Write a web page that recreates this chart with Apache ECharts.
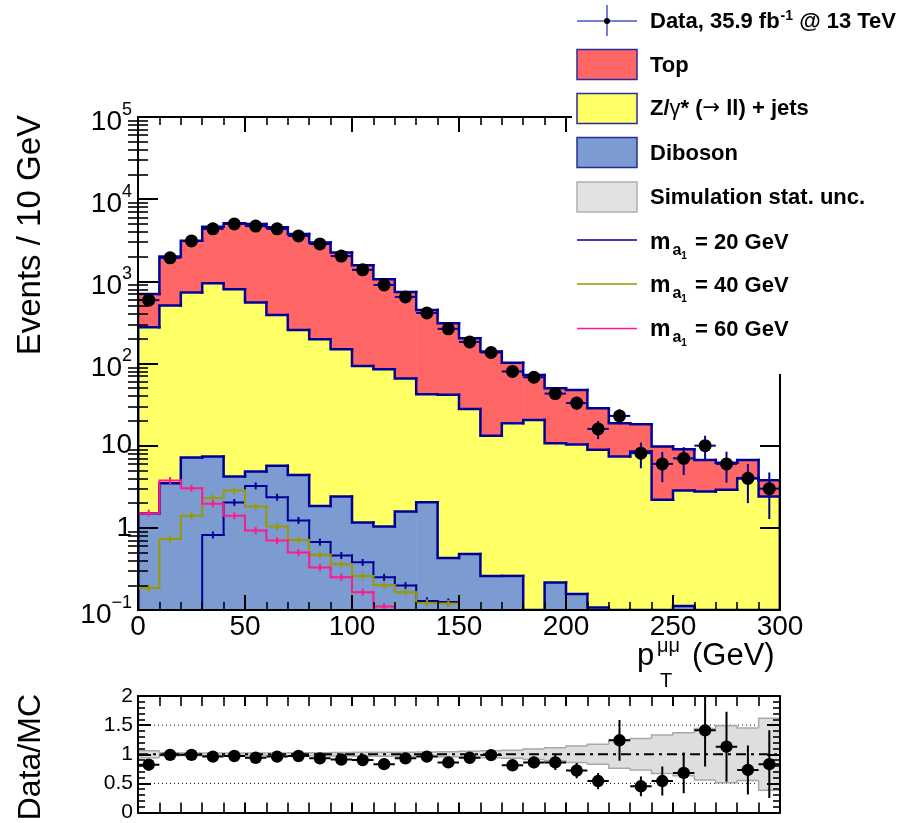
<!DOCTYPE html>
<html><head><meta charset="utf-8">
<script src="https://cdn.jsdelivr.net/npm/echarts@6.0.0/dist/echarts.min.js"></script>
<style>html,body{margin:0;padding:0;background:#fff}#c{width:908px;height:823px}</style>
</head><body><div id="c"></div>
<script>
// ---------------- data ----------------
const binLow = [0,10,20,30,40,50,60,70,80,90,100,110,120,130,140,150,160,170,180,190,200,210,220,230,240,250,260,270,280,290];
const binWidth = 10;
const dataVals = [590,1930,3100,4350,5000,4700,4350,3570,2850,2030,1380,903,646,412,264,183,136,80,68,43,33,16,23,8.1,6,7,10,6,4,3];
const dataErr  = [24,44,56,66,71,69,66,60,53,45,37,30,25,20,16,13.5,11.7,8.9,8.2,6.6,5.7,4,4.8,2.8,2.4,2.6,3.2,2.45,2,1.72];
const topVals  = [427,1493,2396,3682,4288,4439,4160,3514,2763,2091,1477,975,677,407,267.5,175,126.8,83.2,52,39.3,37.3,19.7,11.4,9.7,7.56,6.22,3.93,3.3,2.7,1.4];
const dyVals   = [274.5,503.5,722,941,798,546,384,252,195,147,92.3,84,64,40.3,41.1,27.5,12.9,18.5,20.6,10.5,10.2,8.8,7.4,8.5,2.19,2.73,2.77,2.9,4.0,2.4];
const dibVals  = [1.51,3.5,7.2,7.4,4.2,4.85,5.7,4.4,1.85,2.4,1.16,1.04,1.58,2.05,0.43,0.48,0.26,0.26,0,0.216,0.157,0.107,0,0,0,0.112,0,0,0,0];
const sig20 = [0,0,0,0.82,2.03,3.24,2.36,1.23,0.67,0.46,0.38,0.25,0.198,0.129,0.125,0,0,0,0,0,0,0,0,0,0,0,0,0,0,0];
const sig40 = [0.185,0.73,1.4,2.3,2.84,1.82,1.04,0.71,0.47,0.36,0.26,0.2,0.165,0.122,0.12,0,0,0,0,0,0,0,0,0,0,0,0,0,0,0];
const sig60 = [1.51,3.76,3.04,1.96,1.4,0.93,0.70,0.5,0.33,0.25,0.165,0.11,0,0,0,0,0,0,0,0,0,0,0,0,0,0,0,0,0,0];
const ratioVals = [0.82,0.99,0.99,0.96,0.97,0.94,0.96,0.97,0.93,0.91,0.90,0.83,0.93,0.96,0.86,0.94,0.985,0.81,0.86,0.86,0.72,0.54,1.24,0.45,0.54,0.68,1.41,1.13,0.73,0.83];
const ratioErr  = [0.035,0.023,0.018,0.015,0.014,0.014,0.015,0.016,0.018,0.021,0.025,0.028,0.037,0.047,0.055,0.07,0.085,0.09,0.1,0.13,0.13,0.14,0.35,0.17,0.25,0.35,0.62,0.6,0.42,0.58];
const mcUnc     = [0.06,0.025,0.02,0.02,0.02,0.02,0.02,0.025,0.025,0.03,0.035,0.035,0.035,0.04,0.045,0.05,0.06,0.07,0.09,0.11,0.14,0.17,0.24,0.27,0.33,0.37,0.44,0.49,0.45,0.62];
const yMajor = [0.1,1,10,100,1000,10000,100000];
const yMinor = [0.2,0.3,0.4,0.5,0.6,0.7,0.8,0.9,2,3,4,5,6,7,8,9,20,30,40,50,60,70,80,90,200,300,400,500,600,700,800,900,2000,3000,4000,5000,6000,7000,8000,9000,20000,30000,40000,50000,60000,70000,80000,90000];
const legendLabels = ['Top','Z/γ* (→ ll) + jets','Diboson','Simulation stat. unc.'];
const signalMasses = [20,40,60];

// ---------------- style ----------------
const FONT = "'Liberation Sans', Arial, Helvetica, sans-serif";
const YMIN = 0.1, YMAX = 1e5;
const NAVY = '#000099';
const C_TOP = '#ff6666', C_DY = '#ffff66', C_DIB = '#7b9bd1';
const C_S20 = '#000099', C_S40 = '#999900', C_S60 = '#ff1a8c';
const G0 = {left:138, top:117, width:642, height:493};
const G1 = {left:138, top:696, width:642, height:122};

// stacking
const cumDib = dibVals.slice();
const cumDY = dibVals.map((v,i)=>v+dyVals[i]);
const cumTot = cumDY.map((v,i)=>v+topVals[i]);

function fillSeries(name, lowArr, highArr, color) {
  return {
    type:'custom', name, xAxisIndex:0, yAxisIndex:0, z:2, clip:true, silent:true,
    data: binLow.map((x,i)=>[x, x+binWidth, lowArr[i], highArr[i]]),
    renderItem(params, api) {
      const lo = Math.max(api.value(2), YMIN), hi = api.value(3);
      if (!(hi > lo)) return null;
      const p0 = api.coord([api.value(0), hi]), p1 = api.coord([api.value(1), lo]);
      return {type:'rect', shape:{x:p0[0], y:p0[1], width:p1[0]-p0[0]+0.6, height:p1[1]-p0[1]},
              style:{fill:color, stroke:null}};
    }
  };
}
function stepSeries(name, arr, color, width, z, ticks) {
  const n = arr.length;
  return {
    type:'custom', name, xAxisIndex:0, yAxisIndex:0, z, clip:true, silent:true,
    data: binLow.map((x,i)=>[x, x+binWidth, arr[i], i>0?arr[i-1]:0]),
    renderItem(params, api) {
      const x0 = api.value(0), x1 = api.value(1);
      const v = Math.max(api.value(2), YMIN), pv = Math.max(api.value(3), YMIN);
      const pts = [api.coord([x0, pv]), api.coord([x0, v]), api.coord([x1, v])];
      if (params.dataIndex === n-1) pts.push(api.coord([x1, YMIN]));
      const children = [{type:'polyline', shape:{points:pts},
        style:{stroke:color, lineWidth:width, fill:null, lineCap:'square', lineJoin:'miter'}}];
      if (ticks && api.value(2) > YMIN) {
        const c = api.coord([(x0+x1)/2, v]);
        children.push({type:'line', shape:{x1:c[0], y1:c[1]-3.5, x2:c[0], y2:c[1]+3.5},
          style:{stroke:color, lineWidth:2}});
      }
      return {type:'group', children};
    }
  };
}

const series = [
  fillSeries('Top', cumDY, cumTot, C_TOP),
  fillSeries('DY', cumDib, cumDY, C_DY),
  fillSeries('Diboson', dibVals.map(()=>0), cumDib, C_DIB),
  stepSeries('TopLine', cumTot, NAVY, 2.5, 3),
  stepSeries('DYLine', cumDY, NAVY, 2.5, 3),
  stepSeries('DibLine', cumDib, NAVY, 2.5, 3),
  stepSeries('m20', sig20, C_S20, 2, 4, true),
  stepSeries('m40', sig40, C_S40, 2, 4, true),
  stepSeries('m60', sig60, C_S60, 2, 4, true),
  {
    type:'custom', name:'Data', xAxisIndex:0, yAxisIndex:0, z:6, clip:true, silent:true,
    data: binLow.map((x,i)=>[x, x+binWidth, dataVals[i], dataErr[i]]),
    renderItem(params, api) {
      const x0 = api.value(0), x1 = api.value(1), v = api.value(2), e = api.value(3);
      const xc = (x0+x1)/2;
      const c = api.coord([xc, v]);
      const pl = api.coord([x0, v]), pr = api.coord([x1, v]);
      const pt = api.coord([xc, v+e]), pb = api.coord([xc, Math.max(v-e, YMIN)]);
      return {type:'group', children:[
        {type:'line', shape:{x1:pl[0], y1:c[1], x2:pr[0], y2:c[1]}, style:{stroke:NAVY, lineWidth:2}},
        {type:'line', shape:{x1:c[0], y1:pt[1], x2:c[0], y2:pb[1]}, style:{stroke:NAVY, lineWidth:2}},
        {type:'circle', shape:{cx:c[0], cy:c[1], r:6.5}, style:{fill:'#000'}}
      ]};
    }
  },
  // ratio panel
  {
    type:'line', name:'ref05', xAxisIndex:2, yAxisIndex:4, z:1, silent:true, symbol:'none',
    data:[[0,0.5],[300,0.5]], lineStyle:{color:'#000', width:1, type:[1,3]}
  },
  {
    type:'line', name:'ref15', xAxisIndex:2, yAxisIndex:4, z:1, silent:true, symbol:'none',
    data:[[0,1.5],[300,1.5]], lineStyle:{color:'#000', width:1, type:[1,3]}
  },
  {
    type:'custom', name:'band', xAxisIndex:2, yAxisIndex:4, z:2, clip:true, silent:true,
    data: binLow.map((x,i)=>[x, x+binWidth, mcUnc[i], i>0?mcUnc[i-1]:0]),
    renderItem(params, api) {
      const x0 = api.value(0), x1 = api.value(1), u = api.value(2), pu = api.value(3);
      const a = api.coord([x0, 1+u]), b = api.coord([x1, 1-u]);
      const ch = [{type:'rect', shape:{x:a[0], y:a[1], width:b[0]-a[0]+0.5, height:b[1]-a[1]}, style:{fill:'#dedede'}}];
      const top = [api.coord([x0, 1+pu]), api.coord([x0, 1+u]), api.coord([x1, 1+u])];
      const bot = [api.coord([x0, 1-pu]), api.coord([x0, 1-u]), api.coord([x1, 1-u])];
      if (params.dataIndex === binLow.length-1) { top.push(api.coord([x1, 1])); bot.push(api.coord([x1, 1])); }
      ch.push({type:'polyline', shape:{points:top}, style:{stroke:'#a8a8a8', lineWidth:1.5, fill:null}});
      ch.push({type:'polyline', shape:{points:bot}, style:{stroke:'#a8a8a8', lineWidth:1.5, fill:null}});
      return {type:'group', children:ch};
    }
  },
  {
    type:'line', name:'ref1', xAxisIndex:2, yAxisIndex:4, z:3, silent:true, symbol:'none',
    data:[[0,1],[300,1]], lineStyle:{color:'#000', width:2, type:[10,5,3,5]}
  },
  {
    type:'custom', name:'ratio', xAxisIndex:2, yAxisIndex:4, z:6, clip:true, silent:true,
    data: binLow.map((x,i)=>[x, x+binWidth, ratioVals[i], ratioErr[i]]),
    renderItem(params, api) {
      const x0 = api.value(0), x1 = api.value(1), v = api.value(2), e = api.value(3);
      const xc = (x0+x1)/2;
      const c = api.coord([xc, v]);
      const pl = api.coord([x0, v]), pr = api.coord([x1, v]);
      const pt = api.coord([xc, Math.min(v+e, 2)]), pb = api.coord([xc, Math.max(v-e, 0)]);
      return {type:'group', children:[
        {type:'line', shape:{x1:pl[0], y1:c[1], x2:pr[0], y2:c[1]}, style:{stroke:'#000', lineWidth:2}},
        {type:'line', shape:{x1:c[0], y1:pt[1], x2:c[0], y2:pb[1]}, style:{stroke:'#000', lineWidth:2}},
        {type:'circle', shape:{cx:c[0], cy:c[1], r:6.2}, style:{fill:'#000'}}
      ]};
    }
  }
];

// ---------------- axes ----------------
const lineS = {color:'#000', width:2};
function xAxis(grid, pos, showLabel, majLen, minLen) {
  return {
    type:'value', gridIndex:grid, position:pos, min:0, max:300, interval:50, z:10,
    axisLine:{show:true, onZero:false, lineStyle:lineS},
    axisTick:{show:true, inside:true, length:majLen, lineStyle:{color:'#000', width:2}},
    minorTick:{show:true, splitNumber:5, length:minLen, lineStyle:{color:'#000', width:1.6}},
    axisLabel:{show:showLabel, color:'#000', fontSize:28, fontFamily:FONT, margin:3, showMinLabel:true, showMaxLabel:true},
    splitLine:{show:false}, minorSplitLine:{show:false}
  };
}
const logRich = {
  b:{fontSize:28, fontFamily:FONT, color:'#000', lineHeight:28},
  be:{fontSize:28, fontFamily:FONT, color:'#000', lineHeight:28, padding:[10,0,0,0]},
  s:{fontSize:18, fontFamily:FONT, color:'#000', lineHeight:32, verticalAlign:'top'}
};
function logFmt(v) {
  const e = Math.round(Math.log10(v));
  if (e === 0) return '{b|1}';
  if (e === 1) return '{b|10}';
  return '{be|10}{s|' + (e < 0 ? '\u2212' + (-e) : e) + '}';
}
function yLog(pos, labels) {
  return {
    type:'log', logBase:10, gridIndex:0, position:pos, min:YMIN, max:YMAX, interval:1, z:10,
    axisLine:{show:true, onZero:false, lineStyle:lineS},
    axisTick:{show:true, inside:true, length:20, lineStyle:{color:'#000', width:2}},
    axisLabel:{show:labels, margin:6, formatter:logFmt, rich:logRich, showMinLabel:true, showMaxLabel:true},
    splitLine:{show:false}
  };
}
function yLogMinor(pos) {
  return {
    type:'log', logBase:10, gridIndex:0, position:pos, min:YMIN, max:YMAX, z:10,
    axisLine:{show:false},
    axisTick:{show:true, inside:true, length:10, customValues:yMinor, lineStyle:{color:'#000', width:1.6}},
    axisLabel:{show:false}, splitLine:{show:false}
  };
}
function yRatio(pos, labels) {
  return {
    type:'value', gridIndex:1, position:pos, min:0, max:2, interval:0.5, z:10,
    axisLine:{show:true, onZero:false, lineStyle:lineS},
    axisTick:{show:true, inside:true, length:13, lineStyle:{color:'#000', width:2}},
    minorTick:{show:true, splitNumber:5, length:7, lineStyle:{color:'#000', width:1.6}},
    axisLabel:{show:labels, color:'#000', fontSize:21, fontFamily:FONT, margin:5, showMinLabel:true, showMaxLabel:true},
    splitLine:{show:false}, minorSplitLine:{show:false}
  };
}

// ---------------- text helpers ----------------
const mctx = document.createElement('canvas').getContext('2d');
function tw(t, size, weight, fam) { mctx.font = (weight||'normal') + ' ' + size + 'px ' + (fam||FONT); return mctx.measureText(t).width; }
function richRow(x, yc, pieces, z) {
  const out = []; let cx = x;
  pieces.forEach(p => {
    cx += (p.gapBefore || 0);
    out.push({type:'text', z, silent:true, style:{text:p.t, x:cx, y:yc + (p.dy||0), fontSize:p.size, fontWeight:p.weight||'normal',
      fontFamily:p.fam||FONT, fill:'#000', align:'left', verticalAlign:'middle'}});
    cx += tw(p.t, p.size, p.weight, p.fam);
  });
  return out;
}

const els = [];
// white legend background
els.push({type:'rect', z:50, silent:true, shape:{x:572, y:0, width:336, height:374}, style:{fill:'#fff'}});
const LX = 577, LW = 60, TX = 650, Z = 60;
// Data entry
els.push({type:'line', z:Z, shape:{x1:LX, y1:21, x2:LX+LW, y2:21}, style:{stroke:'#4455cc', lineWidth:1.5}});
els.push({type:'line', z:Z, shape:{x1:LX+LW/2, y1:5, x2:LX+LW/2, y2:36}, style:{stroke:'#4455cc', lineWidth:1.5}});
els.push({type:'circle', z:Z+1, shape:{cx:LX+LW/2, cy:21, r:3}, style:{fill:'#000'}});
els.push(...richRow(TX, 22, [
  {t:'Data, 35.9 fb', size:22, weight:'bold'},
  {t:'-1', size:14, weight:'bold', dy:-6, gapBefore:1},
  {t:' @ 13 TeV', size:22, weight:'bold'}
], Z));
// boxes
const boxY = [49.5, 93.5, 137.5, 182];
const boxFill = [C_TOP, C_DY, C_DIB, '#e2e2e2'];
const boxStroke = ['#2b2b9c', '#2b2b9c', '#2b2b9c', '#b0b0b0'];
const textY = [66, 109, 153.5, 198];
for (let k = 0; k < 4; k++) {
  els.push({type:'rect', z:Z, shape:{x:LX, y:boxY[k], width:LW, height:30}, style:{fill:boxFill[k], stroke:boxStroke[k], lineWidth:1.5}});
}
els.push(...richRow(TX, textY[0], [{t:legendLabels[0], size:22, weight:'bold'}], Z));
els.push(...richRow(TX, textY[1], [
  {t:'Z/', size:22, weight:'bold'}, {t:'γ', size:22}, {t:'* (', size:22, weight:'bold'},
  {t:'→', size:21, fam:"'DejaVu Sans', sans-serif"}, {t:' ll) + jets', size:22, weight:'bold'}
], Z));
els.push(...richRow(TX, textY[2], [{t:legendLabels[2], size:22, weight:'bold'}], Z));
els.push(...richRow(TX, textY[3], [{t:legendLabels[3], size:22, weight:'bold'}], Z));
// signal entries
const sigLineY = [240, 284, 328.5];
const sigColors = [C_S20, C_S40, C_S60];
const sigTextY = [242.5, 285.5, 329.5];
for (let k = 0; k < 3; k++) {
  els.push({type:'line', z:Z, shape:{x1:LX, y1:sigLineY[k], x2:LX+LW, y2:sigLineY[k]}, style:{stroke:sigColors[k], lineWidth:1.5}});
  els.push(...richRow(TX, sigTextY[k], [
    {t:'m', size:23, weight:'bold'},
    {t:'a', size:16, weight:'bold', dy:8, gapBefore:2},
    {t:'1', size:10, weight:'bold', dy:14, gapBefore:0},
    {t:' = ' + signalMasses[k] + ' GeV', size:22, weight:'bold', gapBefore:2}
  ], Z));
}
// axis titles
els.push({type:'text', z:Z, silent:true, x:31, y:115, rotation:Math.PI/2,
  style:{text:'Events / 10 GeV', x:0, y:0, fontSize:33, fontFamily:FONT, fill:'#000', align:'right', verticalAlign:'middle'}});
els.push({type:'text', z:Z, silent:true, x:31, y:694, rotation:Math.PI/2,
  style:{text:'Data/MC', x:0, y:0, fontSize:32, fontFamily:FONT, fill:'#000', align:'right', verticalAlign:'middle'}});
// x title: p_T^{μμ} (GeV)
els.push(...richRow(637, 656, [{t:'p', size:31}], Z));
els.push(...richRow(657, 646, [{t:'μμ', size:20}], Z));
els.push(...richRow(660, 681, [{t:'T', size:20}], Z));
els.push(...richRow(692, 656, [{t:'(GeV)', size:31}], Z));

const option = {
  animation:false,
  backgroundColor:'#fff',
  grid:[
    {left:G0.left, top:G0.top, width:G0.width, height:G0.height, show:false},
    {left:G1.left, top:G1.top, width:G1.width, height:G1.height, show:false}
  ],
  xAxis:[
    xAxis(0,'bottom',true,15,8),
    xAxis(0,'top',false,15,8),
    xAxis(1,'bottom',false,10,10),
    xAxis(1,'top',false,10,10)
  ],
  yAxis:[
    yLog('left', true), yLog('right', false), yLogMinor('left'), yLogMinor('right'),
    yRatio('left', true), yRatio('right', false)
  ],
  series,
  graphic:{elements:els}
};
const chart = echarts.init(document.getElementById('c'), null, {renderer:'canvas', width:908, height:823});
chart.setOption(option);
</script></body></html>
